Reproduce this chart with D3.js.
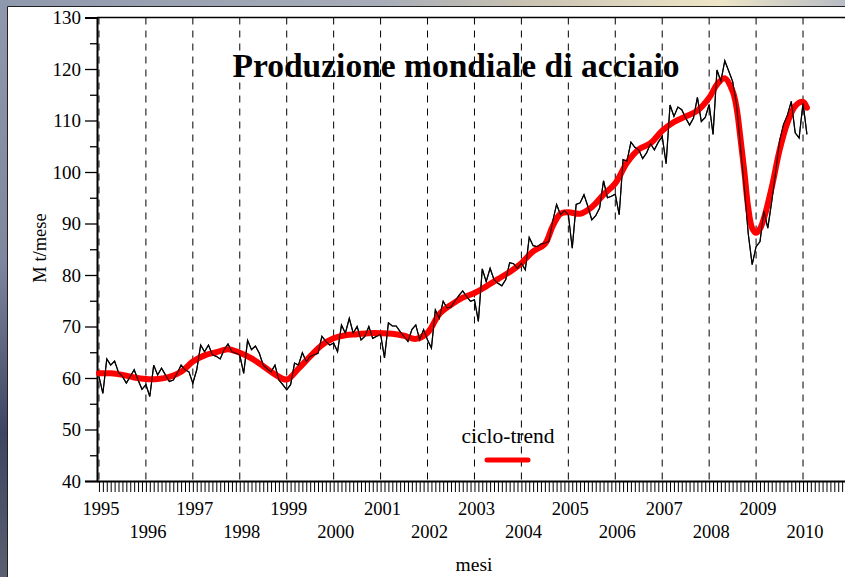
<!DOCTYPE html>
<html>
<head>
<meta charset="utf-8">
<script src="https://cdn.jsdelivr.net/npm/d3@7"></script>
<style>
  html, body { margin: 0; padding: 0; background: #fff; }
  svg { display: block; }
</style>
</head>
<body>
<svg id="chart" width="845" height="577"></svg>
<script>
// monthly world steel production, M t/month, Jan 1995 .. Feb 2010
const startYear = 1995;
const production = [
  60.3, 57.0, 63.7, 62.5, 63.3, 61.1, 60.3, 59.0, 60.3, 61.6, 59.6, 57.8,
  58.7, 56.4, 62.5, 60.6, 61.9, 60.6, 59.3, 59.6, 60.9, 62.5, 61.6, 61.2,
  59.0, 61.6, 66.4, 65.1, 66.4, 64.5, 64.2, 63.7, 65.5, 66.6, 65.1, 64.8,
  64.5, 60.9, 67.3, 65.5, 66.2, 64.8, 62.5, 61.8, 61.2, 62.5, 59.6, 58.7,
  57.7, 58.7, 62.9, 62.5, 64.9, 63.2, 64.2, 64.5, 64.8, 68.1, 67.1, 66.4,
  66.8, 65.1, 70.3, 68.7, 71.6, 68.7, 70.0, 67.4, 68.1, 70.0, 67.7, 68.1,
  68.5, 63.9, 70.7, 70.1, 70.1, 69.0, 68.1, 67.1, 69.4, 70.3, 67.4, 69.4,
  67.4, 65.8, 73.2, 71.6, 74.9, 73.6, 73.8, 74.9, 76.0, 76.9, 75.8, 74.9,
  75.2, 71.0, 81.2, 78.7, 81.3, 79.1, 78.4, 77.9, 79.1, 82.4, 82.2, 81.3,
  82.3, 81.0, 87.3, 85.7, 85.5, 86.0, 86.2, 86.5, 90.4, 93.7, 91.7, 92.5,
  91.7, 85.2, 93.7, 94.0, 95.6, 93.3, 90.7, 91.5, 93.0, 98.3, 95.0, 95.3,
  95.7, 91.7, 102.4, 102.1, 105.8, 104.8, 104.3, 102.6, 103.7, 105.5, 104.3, 105.8,
  106.9, 101.6, 113.0, 110.8, 112.6, 112.1, 110.5, 109.1, 110.5, 114.5, 109.8, 110.6,
  113.1, 107.3, 119.8, 117.6, 121.6, 119.6, 117.6, 113.1, 105.0, 97.0, 88.0, 82.0,
  85.5, 86.5, 92.4, 89.1, 94.3, 100.0, 106.0, 109.2, 111.0, 113.7, 107.6, 106.6,
  113.4, 107.3
];

// ciclo-trend, read at selected months
const trendMonths = [0, 3, 6, 9, 12, 15, 18, 21, 24, 27, 30, 33, 36, 39, 42, 45, 48, 51, 54, 57,
  60, 63, 66, 69, 72, 75, 78, 81, 84, 87, 90, 93, 96, 99, 102, 105, 108, 111, 114, 116, 118,
  120, 123, 126, 129, 132, 135, 138, 141, 144, 147, 150, 153, 156, 158, 160, 162, 163, 164,
  165, 166, 167, 168, 169, 170, 172, 174, 176, 178, 180, 181];
const trendValues = [60.9, 60.9, 60.6, 60.1, 59.8, 59.8, 60.2, 61.2, 63.2, 64.4, 65.0, 65.6, 64.9,
  63.8, 62.3, 60.7, 59.7, 61.8, 64.2, 66.4, 67.7, 68.3, 68.5, 68.7, 68.7, 68.6, 68.2, 67.6,
  68.8, 72.4, 74.2, 75.6, 76.5, 77.8, 79.2, 80.6, 82.3, 84.6, 86.0, 89.5, 91.9, 92.2, 91.9,
  93.2, 95.6, 97.8, 101.8, 104.4, 105.6, 108.0, 109.7, 110.8, 111.9, 114.4, 117.0, 118.2,
  115.7, 112.5, 106.6, 100.1, 93.0, 89.1, 88.2, 89.0, 91.0, 97.0, 104.2, 109.5, 112.8, 113.6, 112.5];

const years = d3.range(1995, 2011);
const yMajorTicks = d3.range(40, 131, 10);
const yMinorTicks = d3.range(45, 130, 10);

const svg = d3.select("#chart");
const serif = "'Liberation Serif', 'Times New Roman', serif";

// photo-like frame around the white sheet
const defs = svg.append("defs");
const gl = defs.append("linearGradient").attr("id", "leftBg").attr("x1", 0).attr("y1", 0).attr("x2", 0).attr("y2", 1);
gl.append("stop").attr("offset", "0").attr("stop-color", "#8f99ad");
gl.append("stop").attr("offset", "0.45").attr("stop-color", "#7d879d");
gl.append("stop").attr("offset", "0.75").attr("stop-color", "#3d4661");
gl.append("stop").attr("offset", "1").attr("stop-color", "#5a6070");
const gt = defs.append("linearGradient").attr("id", "topBg").attr("x1", 0).attr("y1", 0).attr("x2", 1).attr("y2", 0);
gt.append("stop").attr("offset", "0").attr("stop-color", "#8f99ad");
gt.append("stop").attr("offset", "0.45").attr("stop-color", "#a7adb8");
gt.append("stop").attr("offset", "0.62").attr("stop-color", "#c9c2b2");
gt.append("stop").attr("offset", "0.85").attr("stop-color", "#efe6c8");
gt.append("stop").attr("offset", "1").attr("stop-color", "#b8bcc4");
svg.append("rect").attr("x", 0).attr("y", 0).attr("width", 845).attr("height", 7).attr("fill", "url(#topBg)");
svg.append("rect").attr("x", 0).attr("y", 0).attr("width", 7).attr("height", 577).attr("fill", "url(#leftBg)");
svg.append("rect").attr("x", 7).attr("y", 7).attr("width", 838).attr("height", 570).attr("fill", "#fff");
svg.append("path").attr("d", "M7.5,577V6.5H845").attr("fill", "none").attr("stroke", "#222").attr("stroke-width", 1);

const plot = { left: 97, top: 17.5, bottom: 481, right: 848 };
const x = d3.scaleLinear().domain([-0.5, 191.5]).range([plot.left, plot.right]);
const y = d3.scaleLinear().domain([40, 130]).range([plot.bottom, plot.top]);

// yearly dashed lines
svg.append("g").selectAll("line").data(years).join("line")
  .attr("x1", (yr) => x((yr - startYear) * 12)).attr("x2", (yr) => x((yr - startYear) * 12))
  .attr("y1", plot.top).attr("y2", plot.bottom)
  .attr("stroke", "#000").attr("stroke-width", 1).attr("stroke-dasharray", "7 6");

// frame top
svg.append("line").attr("x1", plot.left).attr("x2", 845).attr("y1", plot.top).attr("y2", plot.top)
  .attr("stroke", "#000").attr("stroke-width", 1.5);

// y axis
const yAxis = svg.append("g").attr("transform", `translate(${plot.left},0)`)
  .call(d3.axisLeft(y).tickValues(yMajorTicks).tickSize(12).tickPadding(4).tickFormat(d3.format("d")));
yAxis.select(".domain").attr("stroke", "#000").attr("stroke-width", 2);
yAxis.selectAll(".tick line").attr("stroke", "#000").attr("stroke-width", 1.3);
yAxis.selectAll("text").attr("fill", "#000").style("font-family", serif).style("font-size", "19px");
svg.append("g").attr("transform", `translate(${plot.left},0)`)
  .call(d3.axisLeft(y).tickValues(yMinorTicks).tickSize(7).tickFormat(""))
  .call((axis) => axis.select(".domain").remove())
  .call((axis) => axis.selectAll(".tick line").attr("stroke", "#000").attr("stroke-width", 1.3));

// x axis with monthly ticks
const xAxis = svg.append("g").attr("transform", `translate(0,${plot.bottom})`)
  .call(d3.axisBottom(x).tickValues(d3.range(0, 192)).tickSize(11).tickFormat("").tickSizeOuter(0));
xAxis.select(".domain").attr("stroke", "#000").attr("stroke-width", 2.2);
xAxis.selectAll(".tick line").attr("stroke", "#000").attr("stroke-width", 1);

svg.append("g").selectAll("text").data(years).join("text")
  .attr("x", (yr) => x((yr - startYear) * 12) + 2)
  .attr("y", (yr) => ((yr - startYear) % 2 === 0 ? 515 : 538))
  .attr("text-anchor", "middle")
  .style("font-family", serif).style("font-size", "18.5px")
  .text((yr) => yr);

// series
const rawLine = d3.line().x((v, i) => x(i)).y((v) => y(v));
svg.append("path").attr("d", rawLine(production))
  .attr("fill", "none").attr("stroke", "#000").attr("stroke-width", 1.2).attr("stroke-linejoin", "miter");

const trendLine = d3.line().x((m) => x(m)).y((m, i) => y(trendValues[i])).curve(d3.curveCatmullRom.alpha(0.5));
svg.append("path").attr("d", trendLine(trendMonths))
  .attr("fill", "none").attr("stroke", "#ff0000").attr("stroke-width", 6)
  .attr("stroke-linecap", "round").attr("stroke-linejoin", "round");
// redraw black on top where it crosses
svg.append("path").attr("d", rawLine(production))
  .attr("fill", "none").attr("stroke", "#000").attr("stroke-width", 1.1).attr("opacity", 0.85);

// title & labels
svg.append("text").attr("x", 456).attr("y", 77).attr("text-anchor", "middle")
  .style("font-family", serif).style("font-size", "33.5px").style("font-weight", "bold")
  .text("Produzione mondiale di acciaio");

svg.append("text").attr("transform", "translate(46,248) rotate(-90)").attr("text-anchor", "middle")
  .style("font-family", serif).style("font-size", "18.5px").text("M t/mese");

svg.append("text").attr("x", 474).attr("y", 571).attr("text-anchor", "middle")
  .style("font-family", serif).style("font-size", "19.5px").text("mesi");

// legend
svg.append("text").attr("x", 508).attr("y", 443).attr("text-anchor", "middle")
  .style("font-family", serif).style("font-size", "21.5px").text("ciclo-trend");
svg.append("line").attr("x1", 487).attr("x2", 528).attr("y1", 460).attr("y2", 460)
  .attr("stroke", "#ff0000").attr("stroke-width", 5).attr("stroke-linecap", "round");
</script>
</body>
</html>
